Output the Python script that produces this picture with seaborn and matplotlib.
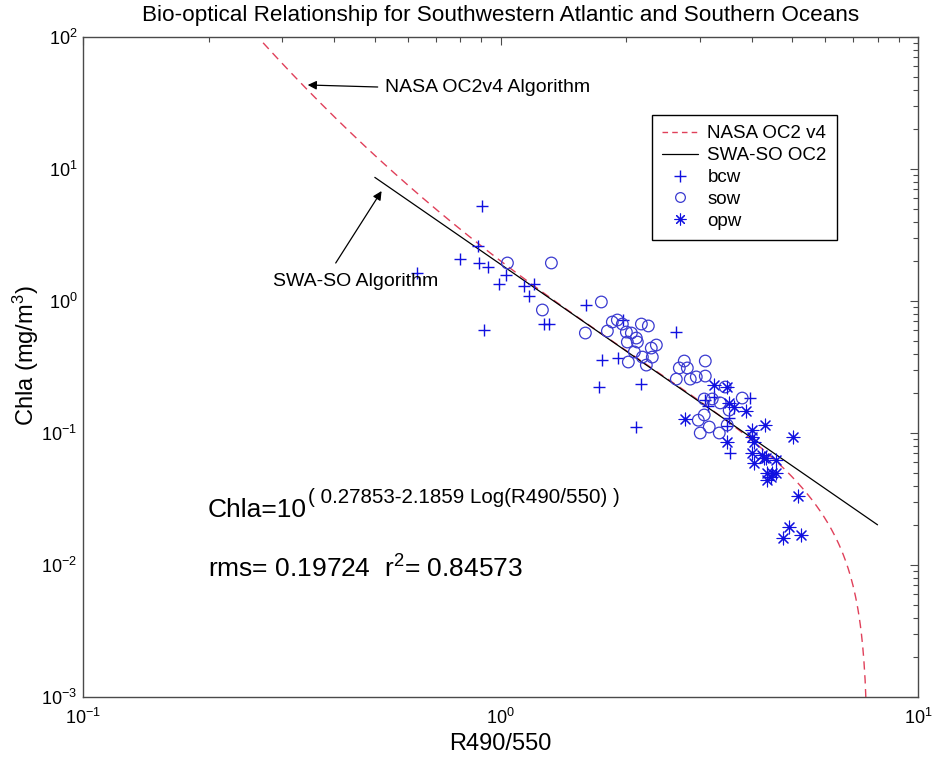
import numpy as np
import matplotlib
matplotlib.use("Agg")
import matplotlib.pyplot as plt
from matplotlib.lines import Line2D
import seaborn as sns

# ---------------- data ----------------
bcw_x = [0.630, 0.802, 0.881, 0.901, 0.886, 0.931, 0.911, 0.994, 1.028, 1.141,
         1.206, 1.167, 1.274, 1.310, 1.606, 1.969, 2.637, 1.754, 1.916, 1.725,
         2.175, 2.115, 3.094, 3.251, 3.145, 3.964, 3.529, 3.491, 3.549]
bcw_y = [1.630, 2.081, 2.610, 5.245, 1.941, 1.810, 0.603, 1.345, 1.574, 1.299,
         1.345, 1.091, 0.669, 0.669, 0.933, 0.718, 0.582, 0.357, 0.370, 0.223,
         0.235, 0.111, 0.178, 0.187, 0.160, 0.184, 0.130, 0.113, 0.0706]

sow_x = [1.039, 1.324, 1.260, 1.744, 1.597, 1.853, 1.905, 1.958, 1.803, 2.175,
         2.260, 2.002, 2.058, 2.115, 2.013, 2.127, 2.362, 2.297, 2.092, 2.187,
         2.310, 2.024, 2.235, 2.755, 3.094, 2.681, 2.802, 2.637, 2.848, 2.944,
         3.094, 3.453, 3.076, 3.215, 3.360, 3.793, 3.076, 3.529, 2.977, 3.162,
         3.009, 3.342, 3.491]
sow_y = [1.941, 1.941, 0.855, 0.983, 0.572, 0.693, 0.718, 0.669, 0.592, 0.669,
         0.647, 0.582, 0.572, 0.524, 0.489, 0.489, 0.464, 0.440, 0.411, 0.376,
         0.376, 0.345, 0.327, 0.351, 0.351, 0.311, 0.311, 0.256, 0.256, 0.266,
         0.270, 0.223, 0.181, 0.181, 0.169, 0.184, 0.137, 0.149, 0.125, 0.111,
         0.100, 0.100, 0.115]

opw_x = [3.251, 3.491, 3.529, 3.629, 3.877, 2.771, 4.305, 4.007, 4.007, 4.052,
         5.023, 3.491, 4.007, 4.052, 4.234, 4.281, 4.328, 4.574, 4.352, 4.474,
         4.574, 4.449, 4.352, 5.164, 4.914, 5.250, 4.754]
opw_y = [0.231, 0.223, 0.169, 0.157, 0.147, 0.128, 0.115, 0.1054, 0.0933, 0.0855,
         0.0933, 0.0855, 0.0706, 0.0593, 0.0681, 0.0647, 0.0647, 0.0624, 0.0498, 0.0498,
         0.0498, 0.0464, 0.0441, 0.0333, 0.0194, 0.0169, 0.0160]

# algorithm coefficients (NASA OC2v4 polynomial, SWA-SO fit shown on the chart)
nasa_coef = [0.319, -2.336, 0.879, -0.135]
nasa_offset = -0.071
nasa_range = [0.27, 7.52]
swa_coef = [0.27853, -2.1859]
swa_range = [0.5, 8.0]

legend_labels = ["NASA OC2 v4", "SWA-SO OC2", "bcw", "sow", "opw"]
title = "Bio-optical Relationship for Southwestern Atlantic and Southern Oceans"
xlabel = "R490/550"
ylabel = r"Chla (mg/m$^{3}$)"
formula_main = "Chla=10"
formula_sup = "( 0.27853-2.1859 Log(R490/550) )"
stats_text = r"rms= 0.19724  r$^{2}$= 0.84573"

# ---------------- style ----------------
sns.set_style("white")
plt.rcParams['font.family'] = ['Liberation Sans', 'DejaVu Sans']
plt.rcParams['mathtext.fontset'] = 'custom'
plt.rcParams['mathtext.rm'] = 'Liberation Sans'
plt.rcParams['mathtext.it'] = 'Liberation Sans:italic'
plt.rcParams['mathtext.bf'] = 'Liberation Sans:bold'
plt.rcParams['axes.unicode_minus'] = False
plt.rcParams['text.color'] = 'black'
plt.rcParams['axes.labelcolor'] = 'black'
plt.rcParams['xtick.labelcolor'] = 'black'
plt.rcParams['ytick.labelcolor'] = 'black'

RED = '#e0405a'
BLUE = '#1010e0'
CIRC = '#3a3ad0'
AXC = '#4a4a4a'

fig = plt.figure(figsize=(9.33, 7.63), dpi=100)
ax = fig.add_axes([83/933, 1-697/763, 835/933, 660/763])

# curves
xn = np.logspace(np.log10(nasa_range[0]), np.log10(nasa_range[1]), 500)
rn = np.log10(xn)
yn = 10**(nasa_coef[0] + nasa_coef[1]*rn + nasa_coef[2]*rn**2 + nasa_coef[3]*rn**3) + nasa_offset
xs = np.logspace(np.log10(swa_range[0]), np.log10(swa_range[1]), 100)
ys = 10**(swa_coef[0] + swa_coef[1]*np.log10(xs))

sns.lineplot(x=xn, y=yn, ax=ax, color=RED, lw=1.0, linestyle=(0, (6, 4)),
             sort=False, estimator=None, zorder=2)
sns.lineplot(x=xs, y=ys, ax=ax, color='black', lw=0.9, sort=False,
             estimator=None, zorder=2)

MS = 70
sns.scatterplot(x=bcw_x, y=bcw_y, ax=ax, marker='+', color=BLUE, s=MS,
                linewidth=1.0, legend=False, zorder=3)
sns.scatterplot(x=sow_x, y=sow_y, ax=ax, marker='o', facecolors='none',
                edgecolor=CIRC, s=MS, linewidth=0.9, legend=False, zorder=3)
sns.scatterplot(x=opw_x, y=opw_y, ax=ax, marker=(8, 2, 0), color=BLUE, s=85,
                linewidth=0.8, legend=False, zorder=3)

ax.set_xscale('log')
ax.set_yscale('log')
ax.set_xlim(0.1, 10)
ax.set_ylim(1e-3, 1e2)

for s in ax.spines.values():
    s.set_color(AXC)
    s.set_linewidth(1.0)
    s.set_visible(True)
ax.tick_params(which='both', direction='in', top=True, right=True, color=AXC,
               labelsize=13, width=0.8, labelcolor='black')
ax.tick_params(which='major', length=6)
ax.tick_params(which='minor', length=3.5)
ax.tick_params(axis='x', which='major', pad=8)
ax.tick_params(axis='y', which='major', pad=4)
ax.grid(False)

ax.set_xlabel(xlabel, fontsize=17, color='black')
ax.set_ylabel(ylabel, fontsize=17, color='black')
ax.xaxis.set_label_coords(0.5, -0.054)
ax.yaxis.set_label_coords(-0.050, 0.517)
fig.text(501/933, 1-15/763, title, ha='center', va='center', fontsize=16.2,
         color='black')

# annotations
ax.annotate("", xy=(0.3453, 43.3), xytext=(0.508, 41.8),
            arrowprops=dict(arrowstyle='-|>', color='black', lw=0.9,
                            mutation_scale=13, shrinkA=0, shrinkB=0))
ax.text(0.528, 41.8, "NASA OC2v4 Algorithm", fontsize=14, ha='left', va='center',
        color='black')
ax.annotate("", xy=(0.519, 6.81), xytext=(0.403, 1.94),
            arrowprops=dict(arrowstyle='-|>', color='black', lw=0.9,
                            mutation_scale=13, shrinkA=0, shrinkB=0))
ax.text(0.2848, 1.393, "SWA-SO Algorithm", fontsize=14, ha='left', va='center',
        color='black')

ax.text(0.1497, 0.2727, formula_main, transform=ax.transAxes, fontsize=19,
        ha='left', va='baseline', color='black')
ax.text(0.2695, 0.294, formula_sup, transform=ax.transAxes, fontsize=14.8,
        ha='left', va='baseline', color='black')
ax.text(0.1497, 0.1803, stats_text, transform=ax.transAxes, fontsize=19,
        ha='left', va='baseline', color='black')

# legend
handles = [
    Line2D([], [], color=RED, lw=1.0, linestyle=(0, (4, 3))),
    Line2D([], [], color='black', lw=0.9),
    Line2D([], [], color=BLUE, marker='+', ls='none', ms=8, mew=1.0),
    Line2D([], [], color=CIRC, marker='o', mfc='none', ls='none', ms=7, mew=0.9),
    Line2D([], [], color=BLUE, marker=(8, 2, 0), ls='none', ms=8.5, mew=0.8),
]
leg = ax.legend(handles, legend_labels, loc='upper left',
                bbox_to_anchor=((652-83)/835, (697-115)/660), fontsize=13.5,
                frameon=True, fancybox=False, edgecolor='black', framealpha=1,
                borderpad=0.55, labelspacing=0.25, handlelength=1.9,
                handletextpad=0.5, borderaxespad=0, labelcolor='black')
leg.get_frame().set_linewidth(1.0)

fig.savefig("out.png", dpi=100)
